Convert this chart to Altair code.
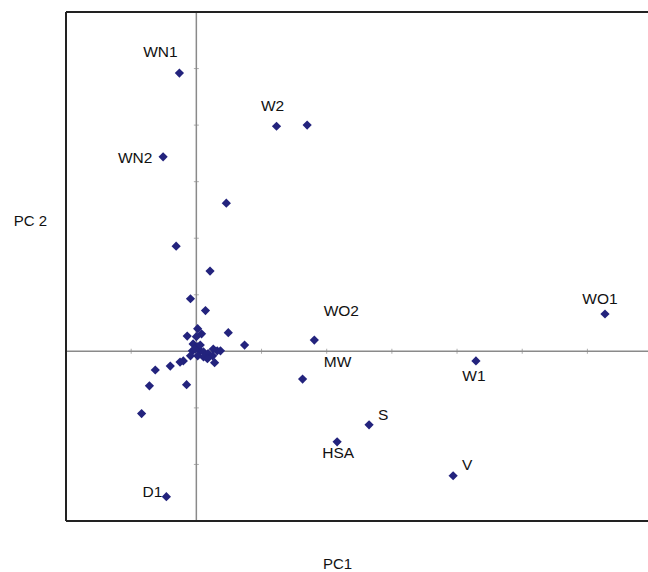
import altair as alt
import pandas as pd

# Labelled samples (PC1, PC2)
labels = ["WN1", "W2", "W2b", "WN2", "WO2", "WO1", "W1", "MW", "S", "HSA", "V", "D1"]
lab_pc1 = [-0.26, 1.23, 1.70, -0.51, 1.81, 6.27, 4.29, 1.63, 2.65, 2.16, 3.94, -0.46]
lab_pc2 = [4.92, 3.98, 4.00, 3.44, 0.20, 0.66, -0.17, -0.49, -1.30, -1.60, -2.20, -2.57]
label_text = ["WN1", "W2", "", "WN2", "WO2", "WO1", "W1", "MW", "S", "HSA", "V", "D1"]
# pixel offsets of each label from its point
label_dx = [-19, -4, 0, -28, 27, -5, -2, 35, 14, 1, 14, -14]
label_dy = [-21, -20, 0, 1, -29, -15, 15, -17, -10, 11, -11, -5]

# Unlabelled samples
other_pc1 = [0.46, -0.31, 0.21, -0.09, 0.14, 0.49, 0.74, 0.02, 0.08, 0.00, -0.14,
             -0.05, 0.02, 0.06, 0.11, 0.18, 0.25, 0.32, 0.37, 0.26, -0.06, 0.02,
             0.11, -0.09, 0.17, 0.28, -0.02, 0.06,
             -0.20, -0.25, -0.40, -0.63, -0.72, -0.15, -0.84]
other_pc2 = [2.62, 1.86, 1.42, 0.93, 0.72, 0.33, 0.11, 0.40, 0.31, 0.26, 0.27,
             0.13, 0.08, 0.01, -0.01, -0.04, -0.08, 0.01, 0.01, 0.04, 0.01, -0.08,
             -0.10, -0.08, -0.13, -0.20, 0.04, 0.11,
             -0.17, -0.19, -0.26, -0.33, -0.61, -0.59, -1.10]

x_ticks = [-1, 1, 2, 3, 4, 5, 6]
y_ticks = [-2, -1, 1, 2, 3, 4, 5]
x_min, x_max = -2, 6.93
y_min, y_max = -3, 6

pts = pd.DataFrame({"PC1": lab_pc1 + other_pc1, "PC2": lab_pc2 + other_pc2})
lab_df = pd.DataFrame({"label": labels, "PC1": lab_pc1, "PC2": lab_pc2, "text": label_text})

xs = alt.Scale(domain=[x_min, x_max], nice=False, zero=False)
ys = alt.Scale(domain=[y_min, y_max], nice=False, zero=False)

FONT = "Liberation Sans"
MARK = "#23237d"
TXT = "#111111"

x_axis = alt.Axis(title="PC1", labels=False, ticks=False, domain=False, grid=False,
                  titleX=271, titleY=47, titleBaseline="alphabetic", titleAlign="center",
                  titleFont=FONT, titleFontSize=15, titleFontWeight="normal", titleColor=TXT)
y_axis = alt.Axis(title="PC 2", labels=False, ticks=False, domain=False, grid=False,
                  titleAngle=0, titleX=-36, titleY=213, titleBaseline="alphabetic",
                  titleAlign="center", titleFont=FONT, titleFontSize=15,
                  titleFontWeight="normal", titleColor=TXT)

# crosshair at zero
zero_df = pd.DataFrame({"v": [0]})
hline = alt.Chart(zero_df).mark_rule(color="#8a8a8a", strokeWidth=1.5).encode(
    y=alt.Y("v:Q", scale=ys, axis=y_axis),
    x=alt.datum(x_min, scale=xs), x2=alt.datum(x_max))
vline = alt.Chart(zero_df).mark_rule(color="#8a8a8a", strokeWidth=1.5).encode(
    x=alt.X("v:Q", scale=xs, axis=x_axis),
    y=alt.datum(y_min, scale=ys), y2=alt.datum(y_max))

xt = alt.Chart(pd.DataFrame({"t": x_ticks, "z": [0] * len(x_ticks)})).mark_tick(
    orient="vertical", size=5, thickness=1, color="#8a8a8a").encode(
    x=alt.X("t:Q", scale=xs), y=alt.Y("z:Q", scale=ys))
yt = alt.Chart(pd.DataFrame({"t": y_ticks, "z": [0] * len(y_ticks)})).mark_tick(
    orient="horizontal", size=5, thickness=1, color="#8a8a8a").encode(
    y=alt.Y("t:Q", scale=ys), x=alt.X("z:Q", scale=xs))

# frame (top, left, bottom)
frame_col = "#222222"
top = alt.Chart(zero_df).mark_rule(color=frame_col, strokeWidth=2).encode(
    y=alt.datum(y_max, scale=ys), x=alt.datum(x_min, scale=xs), x2=alt.datum(x_max))
bottom = alt.Chart(zero_df).mark_rule(color=frame_col, strokeWidth=2).encode(
    y=alt.datum(y_min, scale=ys), x=alt.datum(x_min, scale=xs), x2=alt.datum(x_max))
left = alt.Chart(zero_df).mark_rule(color=frame_col, strokeWidth=2).encode(
    x=alt.datum(x_min, scale=xs), y=alt.datum(y_min, scale=ys), y2=alt.datum(y_max))

points = alt.Chart(pts).mark_point(shape="diamond", filled=True, size=85,
                                   color=MARK, opacity=1).encode(
    x=alt.X("PC1:Q", scale=xs), y=alt.Y("PC2:Q", scale=ys))

texts = []
for i, name in enumerate(labels):
    if not label_text[i]:
        continue
    texts.append(
        alt.Chart(lab_df[lab_df["label"] == name]).mark_text(
            font=FONT, fontSize=15.5, color=TXT, align="center", baseline="middle",
            dx=label_dx[i], dy=label_dy[i]).encode(
            x=alt.X("PC1:Q", scale=xs), y=alt.Y("PC2:Q", scale=ys), text="text:N"))

chart = alt.layer(hline, vline, xt, yt, top, bottom, left, points, *texts).properties(
    width=582, height=509,
    autosize=alt.AutoSizeParams(type="none"),
    padding={"left": 66, "top": 12, "right": 0, "bottom": 51},
).configure_view(stroke=None).configure(background="white")

chart.save("out.html", embed_options={"renderer": "svg", "actions": False})
